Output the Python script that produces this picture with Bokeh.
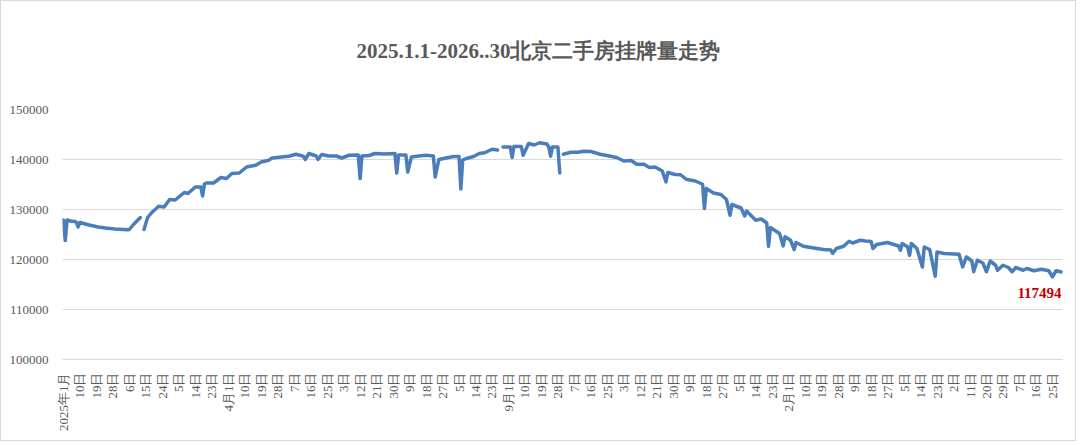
import math
from bokeh.plotting import figure
from bokeh.models import ColumnDataSource, FixedTicker, Range1d, Label, NumeralTickFormatter, Title
from bokeh.embed import file_html
from bokeh.resources import INLINE

# ---- data ----
title_text = "2025.1.1-2026..30北京二手房挂牌量走势"

# days since 2025-01-01
day_index = [
    0, 1, 2, 4, 6, 7, 8, 9, 12, 14, 19, 23, 28, 35, 36, 38, 42, 43,
    44, 46, 48, 52, 55, 58, 61, 66, 68, 72, 75, 76, 77, 78, 82, 86, 89,
    92, 96, 100, 105, 108, 112, 114, 119, 123, 127, 131, 132, 134, 138,
    139, 141, 145, 149, 152, 156, 161, 162, 163, 167, 170, 175, 181, 182,
    183, 187, 188, 190, 194, 198, 202, 203, 205, 209, 213, 216, 217, 218,
    220, 224, 227, 230, 234, 237, 238,
    240, 244, 245, 246, 250, 251, 254, 257, 260, 264, 265, 266, 267, 270,
    271, 272,
    273, 277, 281, 284, 288, 293, 298, 302, 306, 310, 313, 317, 320, 323,
    327, 329, 330, 334, 337, 340, 345, 349, 350, 351, 355, 359, 362, 364,
    365, 370, 372, 373, 378, 381, 384, 385, 386, 391, 393, 394, 397, 399,
    400, 404, 408, 415, 419, 420, 422, 426, 429, 431, 435, 438, 441, 442,
    444, 450, 456, 457, 458, 461, 462, 463, 466, 469, 470, 473, 476, 477,
    481, 489, 491, 493, 496, 497, 499, 502, 504, 506, 509, 510, 513, 516,
    518, 520, 524, 526, 530, 534, 538, 540, 542, 545,
]
NaN = float("nan")
listing_count = [
    127900, 123800, 127900, 127700, 127600, 127500, 126500, 127400, 127100,
    126900, 126500, 126300, 126100, 125950, 126000, 126900, 128400, NaN,
    126000, 128400, 129300, 130650, 130500, 132000, 131900, 133400, 133200,
    134500, 134500, 132700, 135100, 135300, 135300, 136400, 136200,
    137200, 137300, 138500, 138850, 139500, 139850, 140300, 140500, 140650,
    141050, 140650, 140000, 141200, 140700,
    140000, 141000, 140700, 140700, 140300, 140850, 140900, 136200, 140700,
    140800, 141200, 141100, 141200, 137300,
    140900, 140900, 137500, 140500, 140700, 140850, 140700, 136500, 140000,
    140300, 140600, 140600, 134100, 139900,
    140200, 140600, 141200, 141350, 142050, 141900, NaN,
    142500, 142500, 140400, 142600, 142600, 140850, 143200, 142900, 143350,
    143100, 142500, 140650, 142500, 142500,
    137300, NaN,
    141050, 141450, 141450, 141650, 141600, 141050, 140700, 140400, 139700,
    139800, 139050, 139050, 138400, 138500,
    137700, 135500, 137400, 137000, 136950, 136050, 135700, 135050, 130200,
    134200, 133300, 133000, 132000, 128850,
    131000, 130300, 128700, 129700, 127850, 128100, 127300, 122650, 126400,
    125200, 122700, 124550, 123850, 122000,
    123400, 122650, 122400, 122000, 121900, 121200, 122200, 122650, 123650,
    123300, 123850, 123700, 123600, 122200,
    123000, 123400, 122700, 121850, 123200, 122500, 120850, 123200, 122200,
    118500, 122500, 122000, 116650, 121500,
    121200, 121050, 118500, 120500, 119700, 117550, 119850, 119300, 117550,
    119700, 118850, 117850, 118850, 118400,
    117550, 118400, 117850, 118200, 117750, 118050, 117750, 116550, 117750,
    117494,
]

tick_days = list(range(0, 541, 9))
tick_labels = [
    "2025年1月", "10日", "19日", "28日", "6日", "15日", "24日", "5日", "14日", "23日",
    "4月1日", "10日", "19日", "28日", "7日", "16日", "25日", "3日", "12日", "21日",
    "30日", "9日", "18日", "27日", "5日", "14日", "23日", "9月1日", "10日", "19日",
    "28日", "7日", "16日", "25日", "3日", "12日", "21日", "30日", "9日", "18日",
    "27日", "5日", "14日", "23日", "2月1日", "10日", "19日", "28日", "9日", "18日",
    "27日", "5日", "14日", "23日", "2日", "11日", "20日", "29日", "7日", "16日", "25日",
]
y_ticks = [100000, 110000, 120000, 130000, 140000, 150000]

# ---- figure ----
SERIF = "Liberation Serif"
GREY_TXT = "#595959"
GRID = "#D9D9D9"

p = figure(
    width=1076, height=441,
    x_range=Range1d(-0.5, 545.5), y_range=Range1d(100000, 150000),
    output_backend="svg", toolbar_location=None, title_location=None,
    min_border_left=61, min_border_right=15, min_border_top=108, min_border_bottom=83,
    styles={"border": "1px solid #D9D9D9"},
)
p.outline_line_color = None
p.background_fill_color = "white"
p.border_fill_color = "white"

# spacer between plot area and title, then the title itself
p.add_layout(Title(text=" ", text_font_size="1px", standoff=44), "above")
p.add_layout(Title(text=title_text, align="left", offset=294, standoff=0,
                   text_font=SERIF, text_font_size="21px", text_font_style="bold",
                   text_color=GREY_TXT), "above")

src = ColumnDataSource(data=dict(day=day_index, count=listing_count))
p.line(x="day", y="count", source=src, line_color="#4A7EBB", line_width=3.5,
       line_join="round", line_cap="round")

# axes
xa = p.xaxis[0]
xa.ticker = FixedTicker(ticks=tick_days)
xa.major_label_overrides = {d: lab for d, lab in zip(tick_days, tick_labels)}
xa.major_label_orientation = math.pi / 2
xa.axis_line_color = GRID
xa.major_tick_line_color = None
xa.minor_tick_line_color = None
xa.major_label_standoff = 7
xa.major_label_text_font = SERIF
xa.major_label_text_font_size = "13px"
xa.major_label_text_color = GREY_TXT

ya = p.yaxis[0]
ya.ticker = FixedTicker(ticks=y_ticks)
ya.formatter = NumeralTickFormatter(format="0")
ya.axis_line_color = None
ya.major_tick_line_color = None
ya.minor_tick_line_color = None
ya.major_label_standoff = 8
ya.major_label_text_font = SERIF
ya.major_label_text_font_size = "13px"
ya.major_label_text_color = GREY_TXT

p.xgrid.grid_line_color = None
p.ygrid.grid_line_color = GRID
p.ygrid.grid_line_width = 1

last = Label(x=day_index[-1], y=listing_count[-1], text=str(listing_count[-1]),
             text_align="right", text_baseline="middle", x_offset=0, y_offset=-21,
             text_font=SERIF, text_font_size="15px", text_font_style="bold",
             text_color="#C00000")
p.add_layout(last)

open("out.html", "w").write(file_html(p, INLINE))
